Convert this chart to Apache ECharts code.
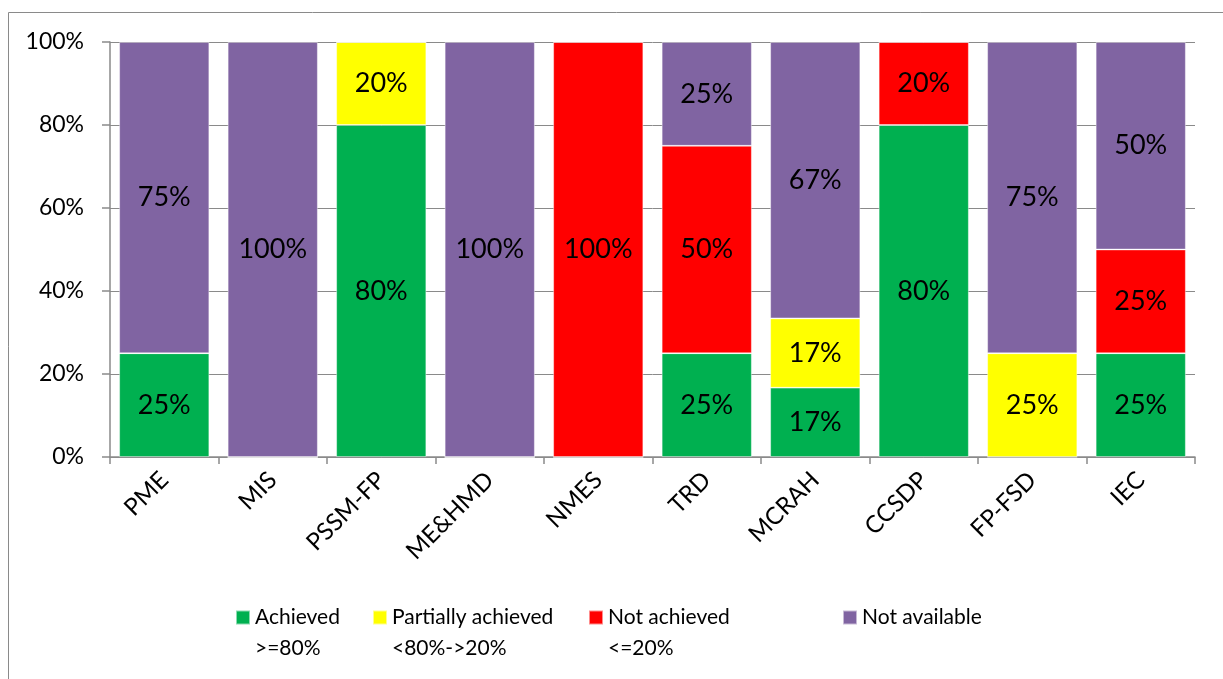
<!DOCTYPE html>
<html>
<head>
<meta charset="utf-8">
<script src="https://cdn.jsdelivr.net/npm/echarts@6/dist/echarts.min.js"></script>
<style>
  html, body { margin: 0; padding: 0; background: #fff; }
  #chart { width: 1223px; height: 679px; }
</style>
</head>
<body>
<div id="chart"></div>
<script>
// Programmes assessed
const categories = ['PME', 'MIS', 'PSSM-FP', 'ME&HMD', 'NMES', 'TRD', 'MCRAH', 'CCSDP', 'FP-FSD', 'IEC'];

// Share of indicators per status (%)
const achieved          = [25, 0, 80, 0, 0, 25, 16.7, 80, 0, 25];
const partiallyAchieved = [0, 0, 20, 0, 0, 0, 16.7, 0, 25, 0];
const notAchieved       = [0, 0, 0, 0, 100, 50, 0, 20, 0, 25];
const notAvailable      = [75, 100, 0, 100, 0, 25, 66.6, 0, 75, 50];

const seriesNames = ['Achieved', 'Partially achieved', 'Not achieved', 'Not available'];
const thresholds  = ['>=80%', '<80%->20%', '<=20%', ''];
const yTicks = [0, 20, 40, 60, 80, 100];

const colors = ['#00B050', '#FFFF00', '#FF0000', '#8064A2'];
const values = [achieved, partiallyAchieved, notAchieved, notAvailable];
const FONT = 'Lato, "Open Sans", sans-serif';
const LINE = 31;

// Legend swatch sitting at the top of a two-line entry: a 14px square plus an
// invisible speck at the bottom so the icon box spans both text lines.
const TALL_ICON = 'path://M0,0H14V14H0Z M0,44.99H0.01V45H0Z';

const chart = echarts.init(document.getElementById('chart'), null, { renderer: 'canvas' });

const series = seriesNames.map((name, i) => ({
  name,
  type: 'bar',
  stack: 'total',
  barCategoryGap: '17%',
  data: values[i],
  itemStyle: { color: colors[i], borderColor: 'rgba(255,255,255,0.55)', borderWidth: 0.8 },
  label: {
    show: true,
    position: 'inside',
    color: '#000',
    fontFamily: FONT,
    fontSize: 27,
    formatter: p => (p.value > 0 ? Math.round(p.value) + '%' : '')
  }
}));

// One legend per status so each entry sits in its own column
const legendLeft = [235, 372, 588, 842];
const legends = seriesNames.map((name, i) => {
  const twoLines = thresholds[i] !== '';
  return {
    data: [name],
    left: legendLeft[i],
    top: 602,
    padding: 0,
    itemWidth: 14,
    itemHeight: twoLines ? 45 : 14,
    icon: twoLines ? TALL_ICON : 'rect',
    selectedMode: false,
    formatter: n => (twoLines ? n + '\n' + thresholds[i] : n),
    textStyle: {
      fontFamily: FONT,
      fontSize: 21,
      color: '#000',
      lineHeight: LINE
    }
  };
});

chart.setOption({
  animation: false,
  backgroundColor: '#fff',
  graphic: [{
    type: 'rect',
    shape: { x: 8.5, y: 12.5, width: 1400, height: 1000 },
    style: { fill: 'none', stroke: '#8a8a8a', lineWidth: 1 },
    silent: true
  }],
  grid: { left: 110, right: 28, top: 42, bottom: 222, containLabel: false },
  legend: legends,
  xAxis: {
    type: 'category',
    data: categories,
    axisLine: { lineStyle: { color: '#8a8a8a', width: 1.5 } },
    axisTick: { show: true, length: 7, lineStyle: { color: '#8a8a8a', width: 1.5 } },
    axisLabel: {
      rotate: 45,
      interval: 0,
      margin: 19,
      color: '#000',
      fontFamily: FONT,
      fontSize: 24
    }
  },
  yAxis: {
    type: 'value',
    min: yTicks[0],
    max: yTicks[yTicks.length - 1],
    interval: 20,
    axisLine: { show: true, lineStyle: { color: '#8a8a8a', width: 1.5 } },
    axisTick: { show: true, length: 8, lineStyle: { color: '#8a8a8a', width: 1.5 } },
    splitLine: { lineStyle: { color: '#8a8a8a', width: 1 } },
    axisLabel: {
      margin: 26,
      color: '#000',
      fontFamily: FONT,
      fontSize: 23,
      formatter: v => v + '%'
    }
  },
  series
});
</script>
</body>
</html>
